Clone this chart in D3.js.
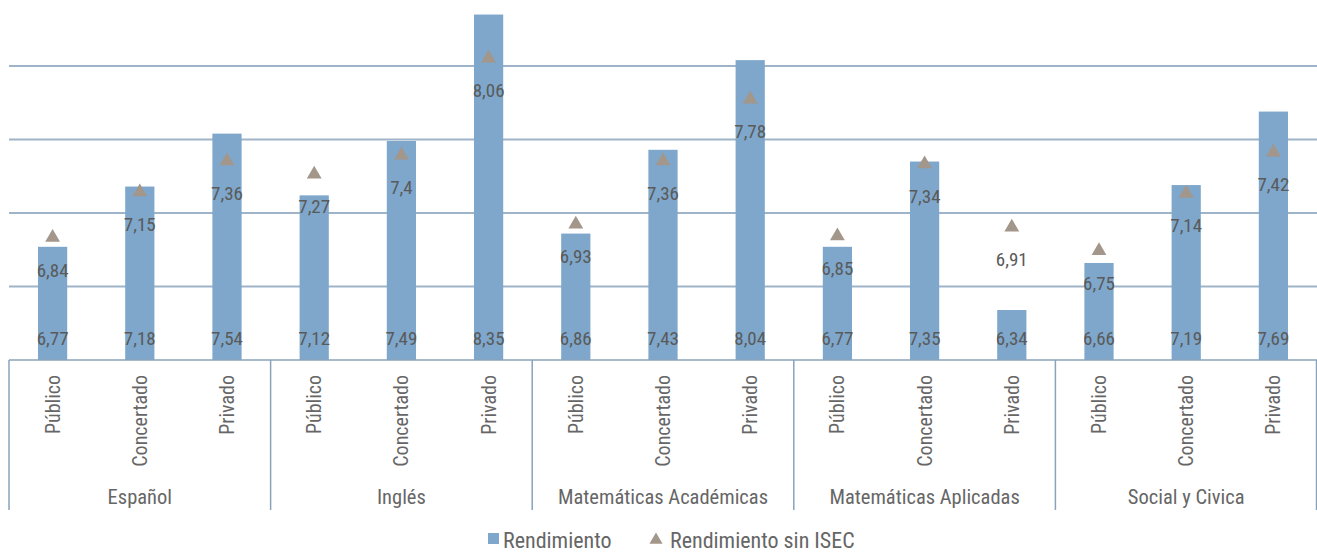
<!DOCTYPE html>
<html><head><meta charset="utf-8">
<script src="https://cdn.jsdelivr.net/npm/d3@7"></script>
<style>
html,body{margin:0;padding:0;background:#fff;}
svg{display:block;}
text{font-family:"Liberation Sans Narrow","Roboto Condensed","Arial Narrow",Roboto,sans-serif;}
</style></head>
<body>
<svg id="chart" width="1317" height="554"></svg>
<script>
const subjects = ["Español", "Inglés", "Matemáticas Académicas", "Matemáticas Aplicadas", "Social y Civica"];
const schoolTypes = ["Público", "Concertado", "Privado"];
const rendimiento = [
  [6.77, 7.18, 7.54],
  [7.12, 7.49, 8.35],
  [6.86, 7.43, 8.04],
  [6.77, 7.35, 6.34],
  [6.66, 7.19, 7.69]
];
const rendimientoSinISEC = [
  [6.84, 7.15, 7.36],
  [7.27, 7.40, 8.06],
  [6.93, 7.36, 7.78],
  [6.85, 7.34, 6.91],
  [6.75, 7.14, 7.42]
];
const gridTicks = [6.5, 7.0, 7.5, 8.0];
const seriesNames = ["Rendimiento", "Rendimiento sin ISEC"];

const svg = d3.select("#chart");
const left = 9, right = 1317, axisY = 360;
const fmt = v => d3.format(".2f")(v).replace(/0$/, "").replace(".", ",");

const x0 = d3.scaleBand().domain(subjects).range([left, right]).padding(0);
const x1 = d3.scaleBand().domain(schoolTypes).range([0, x0.bandwidth()]).padding(0);
const y = d3.scaleLinear().domain([6, 8.5]).range([axisY, axisY - 2.5 * 147]);

const barColor = "#7ea7cb";
const triColor = "#a3968a";
const textColor = "#5a5a5a";
const labColor = "#666";

// gridlines
svg.append("g").selectAll("line").data(gridTicks).join("line")
  .attr("x1", left).attr("x2", right)
  .attr("y1", d => y(d)).attr("y2", d => y(d))
  .attr("stroke", "#9fb4c8").attr("stroke-width", 2);

const flat = [];
subjects.forEach((s, i) => schoolTypes.forEach((t, j) => flat.push({s, t, v: rendimiento[i][j], w: rendimientoSinISEC[i][j]})));
const cx = d => x0(d.s) + x1(d.t) + x1.bandwidth() / 2;
const bw = x1.bandwidth() * 0.335;

// bars
svg.append("g").selectAll("rect").data(flat).join("rect")
  .attr("x", d => cx(d) - bw / 2).attr("width", bw)
  .attr("y", d => y(d.v)).attr("height", d => y(6) - y(d.v))
  .attr("fill", barColor);

// bar labels
svg.append("g").selectAll("text").data(flat).join("text")
  .attr("x", cx).attr("y", 345)
  .attr("text-anchor", "middle").attr("font-size", 19).attr("fill", textColor)
  .text(d => fmt(d.v));

// triangles
const tri = d3.symbol().type(d3.symbolTriangle).size(95);
svg.append("g").selectAll("path").data(flat).join("path")
  .attr("d", tri)
  .attr("transform", d => `translate(${cx(d)},${y(d.w) + 1})`)
  .attr("fill", triColor);

svg.append("g").selectAll("text").data(flat).join("text")
  .attr("x", cx).attr("y", d => y(d.w) + 40)
  .attr("text-anchor", "middle").attr("font-size", 19).attr("fill", textColor)
  .text(d => fmt(d.w));

// category axis
const axisColor = "#8aa3bb";
svg.append("line").attr("x1", left).attr("x2", right).attr("y1", axisY).attr("y2", axisY)
  .attr("stroke", axisColor).attr("stroke-width", 1.5);
const seps = subjects.map(s => x0(s)).concat([right - 0.5]);
svg.append("g").selectAll("line").data(seps).join("line")
  .attr("x1", d => d).attr("x2", d => d).attr("y1", axisY).attr("y2", 510)
  .attr("stroke", axisColor).attr("stroke-width", 1.5);

svg.append("g").selectAll("text").data(flat).join("text")
  .attr("transform", d => `translate(${cx(d) + 7},375) rotate(-90)`)
  .attr("text-anchor", "end").attr("font-size", 20).attr("fill", labColor)
  .text(d => d.t);

svg.append("g").selectAll("text").data(subjects).join("text")
  .attr("x", d => x0(d) + x0.bandwidth() / 2).attr("y", 504)
  .attr("text-anchor", "middle").attr("font-size", 20.5).attr("fill", labColor)
  .text(d => d);

// legend
const lg = svg.append("g");
lg.append("rect").attr("x", 488).attr("y", 533).attr("width", 11).attr("height", 11).attr("fill", barColor);
lg.append("text").attr("x", 503).attr("y", 548).attr("font-size", 22).attr("fill", labColor).text(seriesNames[0]);
lg.append("path").attr("d", d3.symbol().type(d3.symbolTriangle).size(75)).attr("transform", "translate(656,540)").attr("fill", triColor);
lg.append("text").attr("x", 670).attr("y", 548).attr("font-size", 22).attr("fill", labColor).text(seriesNames[1]);
</script>
</body></html>
